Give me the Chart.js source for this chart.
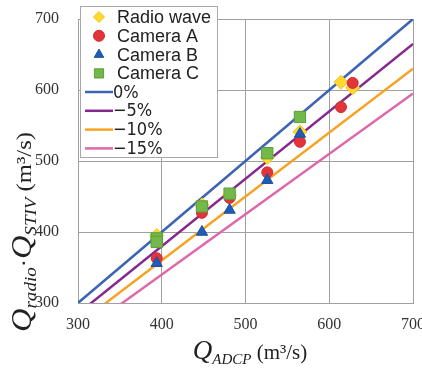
<!DOCTYPE html>
<html>
<head>
<meta charset="utf-8">
<script src="https://cdn.jsdelivr.net/npm/chart.js@4/dist/chart.umd.min.js"></script>
<style>
  html, body { margin: 0; padding: 0; background: #fff; }
  #wrap { width: 422px; height: 371px; }
</style>
</head>
<body>
<div id="wrap"><canvas id="myScatter" width="422" height="371"></canvas></div>
<script>
// ADCP discharge groups (x) and measured values (y)
const radioX = [394, 448, 481, 526, 565, 614, 628];
const radioY = [395, 438, 452, 505, 541, 611, 603];

const camAX = [394, 448, 481, 526, 565, 614, 628];
const camAY = [363, 427, 448, 484, 527, 576, 610];

const camBX = [394, 448, 481, 526, 565];
const camBY = [356, 400, 431, 473, 538];

const camCX = [394, 394, 448, 481, 526, 565];
const camCY = [391, 386, 436, 454, 511, 562];

// reference lines y = ratio * x
const lineX = [300, 700];
const lineRatios = [1, 0.95, 0.9, 0.85];
const lineLabels = ['0%', '\u22125%', '\u221210%', '\u221215%'];
const lineColors = ['#3d64b4', '#84288e', '#f6a323', '#de69aa'];

const tickValues = [300, 400, 500, 600, 700];

function pts(xs, ys) {
  return xs.map((x, i) => ({ x: x, y: ys[i] }));
}

const lineSets = lineRatios.map((r, i) => ({
  type: 'line',
  label: lineLabels[i],
  data: lineX.map(x => ({ x: x, y: x * r })),
  borderColor: lineColors[i],
  borderWidth: 2.5,
  pointRadius: 0,
  fill: false,
  order: 10
}));

const data = {
  datasets: lineSets.concat([
    {
      label: 'Radio wave',
      data: pts(radioX, radioY),
      pointStyle: 'rectRot',
      pointRadius: 7,
      backgroundColor: '#ffd92e',
      borderColor: '#f2c21a',
      borderWidth: 1,
      order: 4
    },
    {
      label: 'Camera A',
      data: pts(camAX, camAY),
      pointStyle: 'circle',
      pointRadius: 5.5,
      backgroundColor: '#e3333b',
      borderColor: '#d02a30',
      borderWidth: 1,
      order: 3
    },
    {
      label: 'Camera B',
      data: pts(camBX, camBY),
      pointStyle: 'triangle',
      pointRadius: 6.5,
      backgroundColor: '#1f5db7',
      borderColor: '#1a50a0',
      borderWidth: 1,
      order: 2
    },
    {
      label: 'Camera C',
      data: pts(camCX, camCY),
      pointStyle: 'rect',
      pointRadius: 8,
      backgroundColor: '#72b84b',
      borderColor: '#5c9c3a',
      borderWidth: 1,
      order: 1
    }
  ])
};

// legend box + axis titles with subscripts
function drawRich(ctx, parts, x, y) {
  let w = 0;
  parts.forEach(p => { ctx.font = p.font; w += ctx.measureText(p.text).width; });
  let cx = x - w / 2;
  parts.forEach(p => {
    ctx.font = p.font;
    ctx.fillText(p.text, cx, y + (p.dy || 0));
    cx += ctx.measureText(p.text).width;
  });
}

const extras = {
  id: 'extras',
  afterDraw(chart) {
    const ctx = chart.ctx;
    ctx.save();
    // legend
    ctx.fillStyle = '#fff';
    ctx.fillRect(80.5, 6.5, 137, 151);
    ctx.strokeStyle = '#a8a8a8';
    ctx.lineWidth = 1;
    ctx.strokeRect(80.5, 6.5, 137, 151);
    const sets = chart.data.datasets;
    const markers = sets.slice(4);
    ctx.textBaseline = 'middle';
    ctx.fillStyle = '#222';
    markers.forEach((ds, i) => {
      const yy = 17 + i * 18.8;
      ctx.fillStyle = ds.backgroundColor;
      ctx.strokeStyle = ds.borderColor;
      ctx.lineWidth = 1;
      Chart.helpers.drawPoint(ctx, { pointStyle: ds.pointStyle, radius: ds.pointStyle === 'rect' ? 6.5 : 5.5, borderWidth: 1 }, 99, yy);
      ctx.fillStyle = '#222';
      ctx.font = '18px "Liberation Sans", Arial, sans-serif';
      ctx.textAlign = 'left';
      ctx.fillText(ds.label, 117, yy + 1);
    });
    lineSets.forEach((ds, i) => {
      const yy = 92 + i * 18.8;
      ctx.strokeStyle = ds.borderColor;
      ctx.lineWidth = 2.5;
      ctx.beginPath();
      ctx.moveTo(85, yy);
      ctx.lineTo(113, yy);
      ctx.stroke();
      ctx.fillStyle = '#222';
      ctx.font = '18px "Liberation Sans Narrow", "DejaVu Sans Condensed", "Liberation Sans", sans-serif';
      ctx.fillText(ds.label, 113, yy + 1);
    });

    // axis titles
    ctx.fillStyle = '#222';
    ctx.textBaseline = 'alphabetic';
    ctx.textAlign = 'left';
    const big = 'italic 27px "Liberation Serif", "Times New Roman", serif';
    const sub = 'italic 15px "Liberation Serif", "Times New Roman", serif';
    const unit = '21px "Liberation Serif", "Times New Roman", serif';
    drawRich(ctx, [
      { text: 'Q', font: big },
      { text: 'ADCP', font: sub, dy: 5 },
      { text: ' (m\u00b3/s)', font: unit }
    ], 250, 359);

    const bigY = 'italic 29px "Liberation Serif", "Times New Roman", serif';
    const subY = 'italic 17px "Liberation Serif", "Times New Roman", serif';
    const unitY = '22px "Liberation Serif", "Times New Roman", serif';
    ctx.translate(31, 232);
    ctx.rotate(-Math.PI / 2);
    ctx.scale(1.12, 1);
    drawRich(ctx, [
      { text: 'Q', font: bigY },
      { text: 'radio', font: subY, dy: 5 },
      { text: '\u00b7', font: unitY },
      { text: 'Q', font: bigY },
      { text: 'STIV', font: subY, dy: 5 },
      { text: ' (m\u00b3/s)', font: unitY }
    ], 0, 0);
    ctx.restore();
  }
};

const tickFont = { family: '"Liberation Serif", "Times New Roman", serif', size: 16 };

const config = {
  type: 'scatter',
  data: data,
  options: {
    responsive: false,
    animation: false,
    layout: { padding: { top: 19, right: 9, left: 0, bottom: 0 } },
    plugins: {
      legend: { display: false },
      tooltip: { enabled: false }
    },
    scales: {
      x: {
        type: 'linear',
        min: 300,
        max: 700,
        afterBuildTicks: s => { s.ticks = tickValues.map(v => ({ value: v })); },
        afterFit: s => { s.height = 68; s.paddingLeft = 0; s.paddingRight = 0; },
        grid: { color: '#a0a0a0', lineWidth: 1, drawTicks: false },
        border: { color: '#a0a0a0' },
        ticks: { padding: 12, color: '#333', font: tickFont }
      },
      y: {
        type: 'linear',
        min: 300,
        max: 700,
        afterBuildTicks: s => { s.ticks = tickValues.map(v => ({ value: v })); },
        afterFit: s => { s.width = 78; s.paddingTop = 0; s.paddingBottom = 0; },
        grid: { color: '#a0a0a0', lineWidth: 1, drawTicks: false },
        border: { color: '#a0a0a0' },
        ticks: { padding: 19, color: '#333', font: tickFont }
      }
    }
  },
  plugins: [extras]
};

const myChart = new Chart(document.getElementById('myScatter'), config);
</script>
</body>
</html>
